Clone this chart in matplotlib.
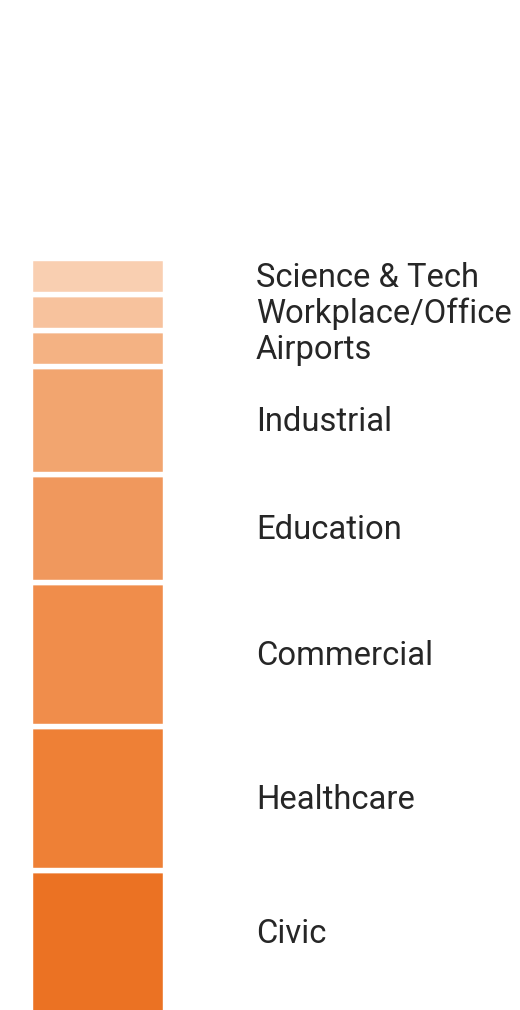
import matplotlib.pyplot as plt

# segments listed bottom to top
sectors = ["Civic", "Healthcare", "Commercial", "Education", "Industrial",
           "Airports", "Workplace/Office", "Science & Tech"]
values = [4, 4, 4, 3, 3, 1, 1, 1]
colors = ["#EB7223", "#EE8036", "#F08D4B", "#F0985D", "#F2A56F",
          "#F4B283", "#F7C29D", "#F9CFB1"]

W, H = 520, 1010
fig = plt.figure(figsize=(W / 100, H / 100), dpi=100)

total = sum(values)
px_per_unit = 36
bottom_px = -4
ax = fig.add_axes([0, bottom_px / H, 1, total * px_per_unit / H])

# bar spans roughly 30..165 px horizontally
bar_left, bar_right = 30.3, 164.7
bar_w = bar_right - bar_left
ax.set_xlim(-0.5 - bar_left / bar_w, -0.5 + (W - bar_left) / bar_w)
ax.set_ylim(0, total)
ax.axis("off")

label_x = -0.5 + (256 - bar_left) / bar_w
base = 0
for name, v, c in zip(sectors, values, colors):
    ax.bar(0, v, bottom=base, width=1, color=c, edgecolor="white", linewidth=3.9)
    y = base + v / 2 - 0.05
    if base == 0:
        y += 0.28  # bottom label sits a bit higher (bar runs off the edge)
    ax.text(label_x, y, name, ha="left", va="center", fontsize=23.6,
            family=["Roboto", "DejaVu Sans"], color="#262626")
    base += v

fig.savefig("out.png", dpi=100)
